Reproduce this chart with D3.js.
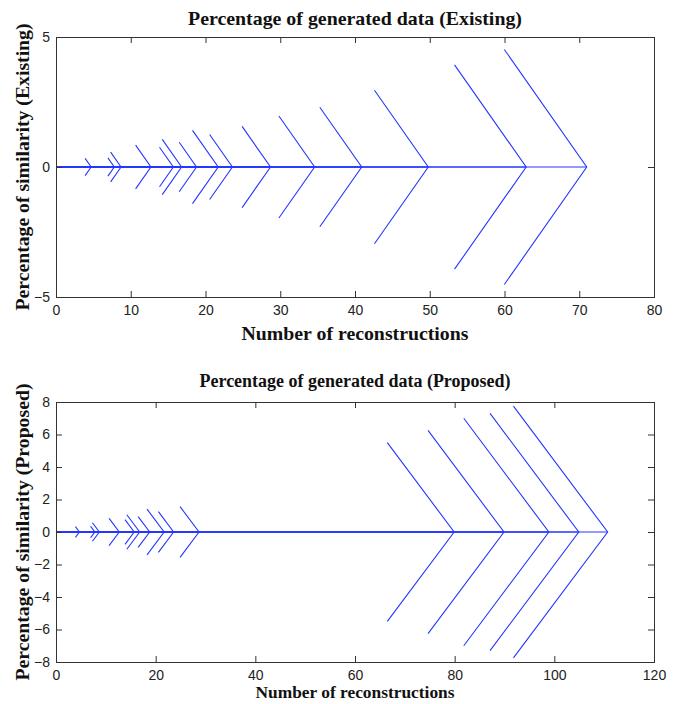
<!DOCTYPE html>
<html>
<head>
<meta charset="utf-8">
<script src="https://cdn.jsdelivr.net/npm/d3@7"></script>
<style>
  html, body { margin: 0; padding: 0; background: #fff; }
  svg { display: block; }
</style>
</head>
<body>
<svg id="chart" width="679" height="704"></svg>
<script>
// Arrow tips along the reconstruction axis and the half-spread of each arrowhead (similarity units)
const existingTips   = [4.7, 7.8, 8.7, 12.7, 15.7, 16.8, 18.8, 21.7, 23.6, 28.7, 34.6, 40.9, 49.8, 62.9, 71.0];
const existingSpread = [0.33, 0.35, 0.57, 0.84, 0.76, 1.06, 0.95, 1.41, 1.25, 1.56, 1.96, 2.30, 2.95, 3.93, 4.52];
const proposedTips   = [4.7, 7.8, 8.7, 12.7, 15.7, 16.8, 18.8, 21.7, 23.6, 28.7, 79.9, 89.9, 98.9, 104.9, 110.7];
const proposedSpread = [0.33, 0.35, 0.57, 0.84, 0.76, 1.06, 0.95, 1.41, 1.25, 1.56, 5.5, 6.25, 7.0, 7.3, 7.75];

const existingXTicks = [0, 10, 20, 30, 40, 50, 60, 70, 80];
const existingYTicks = [-5, 0, 5];
const proposedXTicks = [0, 20, 40, 60, 80, 100, 120];
const proposedYTicks = [-8, -6, -4, -2, 0, 2, 4, 6, 8];

const titles  = ["Percentage of generated data (Existing)", "Percentage of generated data (Proposed)"];
const yLabels = ["Percentage of similarity (Existing)", "Percentage of similarity (Proposed)"];
const xLabel  = "Number of reconstructions";

// arrowhead arms rise 0.41 units for every unit they run back from the tip
const HEAD_SLOPE = 0.41;
const TICK = 6;
const LINE_BLUE = "#2536ff";

const svg = d3.select("#chart");

const panels = [
  {
    tips: existingTips, spread: existingSpread,
    xDomain: [0, 80], yDomain: [-5, 5],
    xTicks: existingXTicks, yTicks: existingYTicks,
    box: { left: 56, right: 654, top: 37, bottom: 297 },
    title: titles[0], titleY: 25, titleLen: 334, titleSize: 19,
    yLabel: yLabels[0], yLabelX: 29, yLabelLen: 287, yLabelSize: 19,
    xLabelY: 340, xLabelLen: 227, xLabelSize: 19
  },
  {
    tips: proposedTips, spread: proposedSpread,
    xDomain: [0, 120], yDomain: [-8, 8],
    xTicks: proposedXTicks, yTicks: proposedYTicks,
    box: { left: 56, right: 654, top: 402, bottom: 662 },
    title: titles[1], titleY: 387, titleLen: 311, titleSize: 18,
    yLabel: yLabels[1], yLabelX: 29, yLabelLen: 297, yLabelSize: 19,
    xLabelY: 698, xLabelLen: 199, xLabelSize: 17
  }
];

panels.forEach(p => {
  const b = p.box;
  const x = d3.scaleLinear().domain(p.xDomain).range([b.left, b.right]);
  const y = d3.scaleLinear().domain(p.yDomain).range([b.bottom, b.top]);
  const g = svg.append("g");

  const line = d3.line().x(d => x(d[0])).y(d => y(d[1]));

  // shafts run from the origin to each tip; heads are two arms meeting at the tip
  const arrows = p.tips.map((t, i) => {
    const s = p.spread[i];
    const back = t - s / HEAD_SLOPE;
    return { shaft: [[0, 0], [t, 0]], head: [[back, s], [t, 0], [back, -s]] };
  });

  const marks = g.append("g")
    .attr("fill", "none")
    .attr("stroke", LINE_BLUE)
    .attr("stroke-width", 1.1);

  marks.selectAll("path.shaft").data(arrows).join("path")
    .attr("class", "shaft")
    .attr("d", d => line(d.shaft));
  marks.selectAll("path.head").data(arrows).join("path")
    .attr("class", "head")
    .attr("d", d => line(d.head));

  // axes with inward ticks on all four sides
  const tickFont = sel => sel.selectAll("text")
    .attr("font-family", "'Liberation Sans', Arial, sans-serif")
    .attr("font-size", 14)
    .attr("fill", "#222");
  const clean = sel => {
    sel.select(".domain").remove();
    sel.selectAll(".tick line").attr("stroke", "#333");
  };

  g.append("g")
    .attr("transform", `translate(0,${b.bottom})`)
    .call(d3.axisBottom(x).tickValues(p.xTicks).tickSizeInner(-TICK).tickSizeOuter(0).tickPadding(8))
    .call(clean).call(tickFont);
  g.append("g")
    .attr("transform", `translate(0,${b.top})`)
    .call(d3.axisTop(x).tickValues(p.xTicks).tickSizeInner(-TICK).tickSizeOuter(0).tickFormat(""))
    .call(clean);
  g.append("g")
    .attr("transform", `translate(${b.left},0)`)
    .call(d3.axisLeft(y).tickValues(p.yTicks).tickSizeInner(-TICK).tickSizeOuter(0).tickPadding(6))
    .call(clean).call(tickFont);
  g.append("g")
    .attr("transform", `translate(${b.right},0)`)
    .call(d3.axisRight(y).tickValues(p.yTicks).tickSizeInner(-TICK).tickSizeOuter(0).tickFormat(""))
    .call(clean);

  g.append("rect")
    .attr("x", b.left + 0.5).attr("y", b.top + 0.5)
    .attr("width", b.right - b.left).attr("height", b.bottom - b.top)
    .attr("fill", "none").attr("stroke", "#333").attr("stroke-width", 1);

  const cx = (b.left + b.right) / 2;
  const cy = (b.top + b.bottom) / 2;
  const serif = "'Liberation Serif', 'Times New Roman', serif";

  g.append("text")
    .attr("x", cx).attr("y", p.titleY)
    .attr("text-anchor", "middle")
    .attr("font-family", serif).attr("font-weight", "bold")
    .attr("font-size", p.titleSize)
    .attr("textLength", p.titleLen).attr("lengthAdjust", "spacingAndGlyphs")
    .attr("fill", "#111")
    .text(p.title);

  g.append("text")
    .attr("x", cx).attr("y", p.xLabelY)
    .attr("text-anchor", "middle")
    .attr("font-family", serif).attr("font-weight", "bold")
    .attr("font-size", p.xLabelSize)
    .attr("textLength", p.xLabelLen).attr("lengthAdjust", "spacingAndGlyphs")
    .attr("fill", "#111")
    .text(xLabel);

  g.append("text")
    .attr("transform", `translate(${p.yLabelX},${cy}) rotate(-90)`)
    .attr("text-anchor", "middle")
    .attr("font-family", serif).attr("font-weight", "bold")
    .attr("font-size", p.yLabelSize)
    .attr("textLength", p.yLabelLen).attr("lengthAdjust", "spacingAndGlyphs")
    .attr("fill", "#111")
    .text(p.yLabel);
});
</script>
</body>
</html>
